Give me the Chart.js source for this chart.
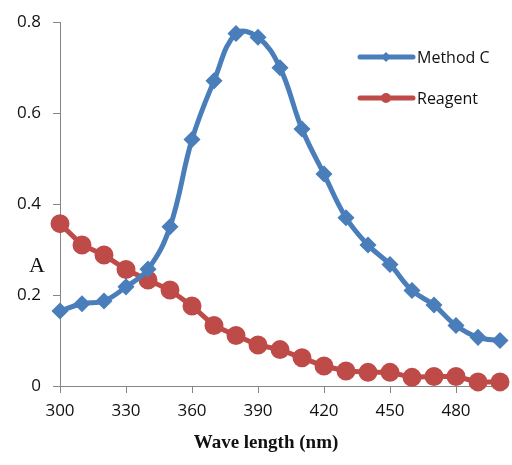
<!DOCTYPE html>
<html>
<head>
<meta charset="utf-8">
<script src="https://cdn.jsdelivr.net/npm/chart.js@4/dist/chart.umd.min.js"></script>
<style>
  html, body { margin: 0; padding: 0; background: #fff; }
  #wrap { width: 512px; height: 465px; }
</style>
</head>
<body>
<div id="wrap"><canvas id="absChart" width="512" height="465"></canvas></div>
<script>
// DATA
const wavelengths = [300, 310, 320, 330, 340, 350, 360, 370, 380, 390, 400, 410, 420, 430, 440, 450, 460, 470, 480, 490, 500];
const methodC = [0.165, 0.181, 0.187, 0.218, 0.257, 0.350, 0.542, 0.671, 0.775, 0.767, 0.700, 0.565, 0.466, 0.370, 0.310, 0.267, 0.210, 0.178, 0.133, 0.107, 0.100];
const reagent = [0.357, 0.310, 0.288, 0.256, 0.233, 0.211, 0.176, 0.133, 0.111, 0.090, 0.080, 0.062, 0.044, 0.033, 0.030, 0.030, 0.019, 0.021, 0.021, 0.009, 0.009];
const xTicks = [300, 330, 360, 390, 420, 450, 480];
const yTicks = [0, 0.2, 0.4, 0.6, 0.8];

const BLUE = '#4a7ebb';
const RED = '#be4b48';
const AXIS = '#868686';

const toPts = (vals) => vals.map((v, i) => ({ x: wavelengths[i], y: v }));

// titles + legend drawn by hand so they sit where the original has them
const extras = {
  id: 'extras',
  afterDraw(chart) {
    const c = chart.ctx;
    c.save();
    c.fillStyle = '#111';
    c.textAlign = 'center';
    c.textBaseline = 'middle';
    c.font = '22px "Liberation Serif"';
    c.fillText('A', 37, 266);
    c.font = 'bold 19px "Liberation Serif"';
    c.fillText('Wave length (nm)', 266, 443);

    // legend
    const items = [
      { label: 'Method C', color: BLUE, shape: 'diamond', y: 57 },
      { label: 'Reagent', color: RED, shape: 'circle', y: 98 }
    ];
    items.forEach(it => {
      c.strokeStyle = it.color;
      c.fillStyle = it.color;
      c.lineWidth = 5;
      c.lineCap = 'round';
      c.beginPath();
      c.moveTo(360, it.y);
      c.lineTo(413, it.y);
      c.stroke();
      c.beginPath();
      if (it.shape === 'diamond') {
        c.moveTo(386, it.y - 5); c.lineTo(391, it.y); c.lineTo(386, it.y + 5); c.lineTo(381, it.y);
      } else {
        c.arc(386, it.y, 5, 0, Math.PI * 2);
      }
      c.closePath();
      c.fill();
      c.fillStyle = '#111';
      c.textAlign = 'left';
      c.font = '16px "Open Sans"';
      c.fillText(it.label, 417, it.y + 1);
    });
    c.restore();
  }
};

const ctx = document.getElementById('absChart').getContext('2d');
const chart = new Chart(ctx, {
  type: 'scatter',
  data: {
    datasets: [{
      label: 'Method C',
      data: toPts(methodC),
      showLine: true,
      borderColor: BLUE,
      backgroundColor: BLUE,
      borderWidth: 5,
      tension: 0.4,
      pointStyle: 'rectRot',
      pointRadius: 5,
      pointHoverRadius: 5,
      clip: false
    }, {
      label: 'Reagent',
      data: toPts(reagent),
      showLine: true,
      borderColor: RED,
      backgroundColor: RED,
      borderWidth: 5,
      tension: 0,
      pointStyle: 'circle',
      pointRadius: 7,
      pointHoverRadius: 7,
      clip: false
    }]
  },
  options: {
    responsive: false,
    animation: false,
    layout: { padding: { top: 18, right: 6, left: 0, bottom: 0 } },
    plugins: { legend: { display: false }, tooltip: { enabled: false } },
    scales: {
      x: {
        type: 'linear',
        min: 300,
        max: 500,
        afterBuildTicks: (s) => { s.ticks = xTicks.map(v => ({ value: v })); },
        afterFit: (s) => { s.height = 79; },
        grid: { drawOnChartArea: false, color: AXIS, tickLength: 7 },
        border: { color: AXIS, width: 1 },
        ticks: { color: '#111', font: { family: 'Open Sans', size: 17 }, padding: 8, maxRotation: 0 }
      },
      y: {
        min: 0,
        max: 0.8,
        afterBuildTicks: (s) => { s.ticks = yTicks.map(v => ({ value: v })); },
        afterFit: (s) => { s.width = 60; },
        grid: { drawOnChartArea: false, color: AXIS, tickLength: 7 },
        border: { color: AXIS, width: 1 },
        ticks: { color: '#111', font: { family: 'Open Sans', size: 17 }, padding: 12, callback: v => String(v) }
      }
    }
  },
  plugins: [extras]
});
</script>
</body>
</html>
